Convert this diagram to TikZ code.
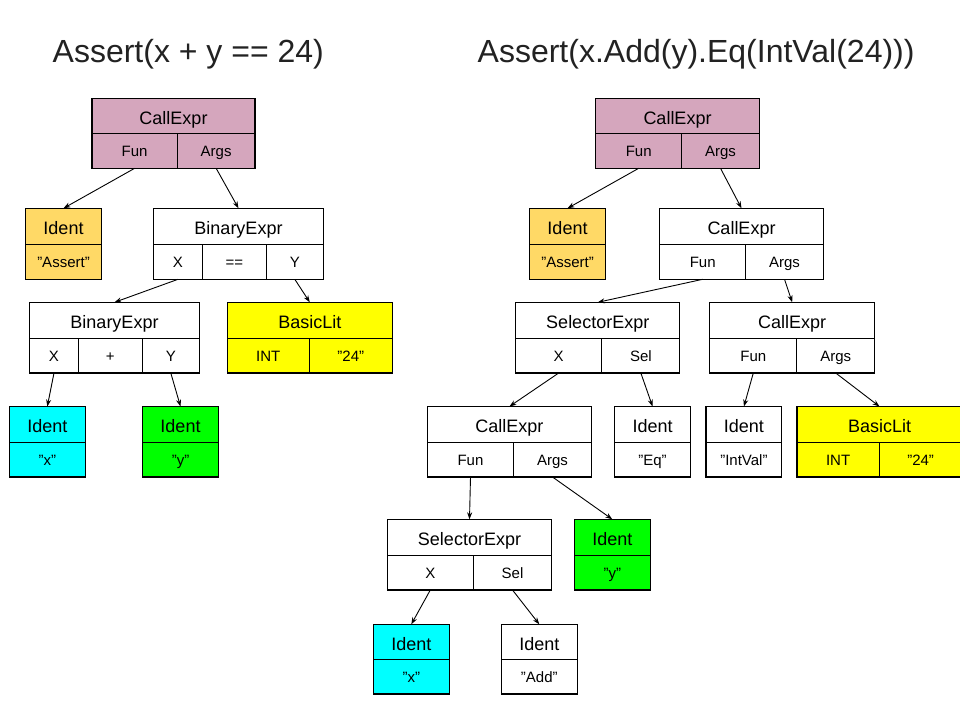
\documentclass[tikz,border=0pt]{standalone}
\usepackage{fontspec}
\setmainfont{Liberation Sans}
\usetikzlibrary{arrows.meta}
\definecolor{pinkc}{HTML}{D5A6BD}
\definecolor{orangec}{HTML}{FFD966}
\definecolor{yellowc}{HTML}{FFFF00}
\definecolor{cyanc}{HTML}{00FFFF}
\definecolor{greenc}{HTML}{00FF00}
\definecolor{titlec}{HTML}{222222}
\newcommand\cell[7]{\node[cellbox,#7,minimum width={(#4-#2)*1pt},minimum height={(#5-#3)*1pt}] (#1) at ({(#2+#4)/2},{(#3+#5)/2}) {#6};}
\tikzset{
  cellbox/.style={draw=black,line width=1.1pt,rectangle,inner sep=0pt,outer sep=0pt},
  hd/.style={font=\fontsize{18}{20}\selectfont,text height=16.5pt,text depth=0pt},
  lb/.style={font=\fontsize{15}{17}\selectfont,text height=10.9pt,text depth=0pt},
  conn/.style={draw=black,line width=0.9pt,-{Stealth[length=7pt,width=5pt]}},
  titletext/.style={text=titlec,font=\fontsize{32}{36}\selectfont,inner sep=0pt,anchor=base west}
}
\begin{document}
\begin{tikzpicture}[x=1pt,y=-1pt]
\useasboundingbox[fill=white] (0,0) rectangle (960,720);
% titles
\node[titletext] (t1) at (52.5,62.5) {Assert(x + y == 24)};
\node[titletext] (t2) at (477.5,62.5) {Assert(x.Add(y).Eq(IntVal(24)))};

% ---------- left tree ----------
\cell{lc}{92}{98.3}{255}{133.3}{CallExpr}{hd,fill=pinkc}
\cell{lcf}{92}{133.3}{177.3}{168.3}{Fun}{lb,fill=pinkc}
\cell{lca}{177.3}{133.3}{255}{168.3}{Args}{lb,fill=pinkc}

\cell{lia}{25.7}{208.3}{101.3}{244.3}{Ident}{hd,fill=orangec}
\cell{liav}{25.7}{244.3}{101.3}{279.3}{”Assert”}{lb,fill=orangec}

\cell{lb1}{153.7}{208.3}{323.3}{244.3}{BinaryExpr}{hd,fill=white}
\cell{lb1x}{153.7}{244.3}{202.3}{279.3}{X}{lb,fill=white}
\cell{lb1o}{202.3}{244.3}{266.3}{279.3}{==}{lb,fill=white}
\cell{lb1y}{266.3}{244.3}{323.3}{279.3}{Y}{lb,fill=white}

\cell{lb2}{29.7}{302.3}{199.3}{338.3}{BinaryExpr}{hd,fill=white}
\cell{lb2x}{29.7}{338.3}{78.3}{373}{X}{lb,fill=white}
\cell{lb2o}{78.3}{338.3}{142.3}{373}{+}{lb,fill=white}
\cell{lb2y}{142.3}{338.3}{199.3}{373}{Y}{lb,fill=white}

\cell{llit}{227.3}{302.3}{392.3}{338.3}{BasicLit}{hd,fill=yellowc}
\cell{llitk}{227.3}{338.3}{309.3}{373}{INT}{lb,fill=yellowc}
\cell{llitv}{309.3}{338.3}{392.3}{373}{”24”}{lb,fill=yellowc}

\cell{lix}{9.3}{406.5}{85.3}{442.3}{Ident}{hd,fill=cyanc}
\cell{lixv}{9.3}{442.3}{85.3}{477}{”x”}{lb,fill=cyanc}

\cell{liy}{142.7}{406.5}{218.3}{442.3}{Ident}{hd,fill=greenc}
\cell{liyv}{142.7}{442.3}{218.3}{477}{”y”}{lb,fill=greenc}

\draw[conn] (lcf.south) -- (lia.north);
\draw[conn] (lca.south) -- (lb1.north);
\draw[conn] (lb1x.south) -- (lb2.north);
\draw[conn] (lb1y.south) -- (llit.north);
\draw[conn] (lb2x.south) -- (lix.north);
\draw[conn] (lb2y.south) -- (liy.north);

% ---------- right tree ----------
\cell{rc}{595.7}{98.3}{759.3}{133.3}{CallExpr}{hd,fill=pinkc}
\cell{rcf}{595.7}{133.3}{681.7}{168.3}{Fun}{lb,fill=pinkc}
\cell{rca}{681.7}{133.3}{759.3}{168.3}{Args}{lb,fill=pinkc}

\cell{ria}{529.7}{208.3}{605.3}{244.3}{Ident}{hd,fill=orangec}
\cell{riav}{529.7}{244.3}{605.3}{279.3}{”Assert”}{lb,fill=orangec}

\cell{rc2}{659.7}{208.3}{823.3}{244.3}{CallExpr}{hd,fill=white}
\cell{rc2f}{659.7}{244.3}{745.7}{279.3}{Fun}{lb,fill=white}
\cell{rc2a}{745.7}{244.3}{823.3}{279.3}{Args}{lb,fill=white}

\cell{rs1}{515.6}{302.3}{679.9}{338.3}{SelectorExpr}{hd,fill=white}
\cell{rs1x}{515.6}{338.3}{601.8}{373}{X}{lb,fill=white}
\cell{rs1s}{601.8}{338.3}{679.9}{373}{Sel}{lb,fill=white}

\cell{rc3}{709.8}{302.3}{874.6}{338.3}{CallExpr}{hd,fill=white}
\cell{rc3f}{709.8}{338.3}{796.8}{373}{Fun}{lb,fill=white}
\cell{rc3a}{796.8}{338.3}{874.6}{373}{Args}{lb,fill=white}

\cell{rc4}{427.4}{406.5}{591.4}{442.3}{CallExpr}{hd,fill=white}
\cell{rc4f}{427.4}{442.3}{513.6}{477}{Fun}{lb,fill=white}
\cell{rc4a}{513.6}{442.3}{591.4}{477}{Args}{lb,fill=white}

\cell{rieq}{614.8}{406.5}{690.3}{442.3}{Ident}{hd,fill=white}
\cell{rieqv}{614.8}{442.3}{690.3}{477}{”Eq”}{lb,fill=white}

\cell{riiv}{706}{406.5}{781.8}{442.3}{Ident}{hd,fill=white}
\cell{riivv}{706}{442.3}{781.8}{477}{”IntVal”}{lb,fill=white}

\cell{rlit}{797}{406.5}{962}{442.3}{BasicLit}{hd,fill=yellowc}
\cell{rlitk}{797}{442.3}{879.2}{477}{INT}{lb,fill=yellowc}
\cell{rlitv}{879.2}{442.3}{962}{477}{”24”}{lb,fill=yellowc}

\cell{rs2}{387.3}{519.3}{551.7}{555.3}{SelectorExpr}{hd,fill=white}
\cell{rs2x}{387.3}{555.3}{473.3}{590}{X}{lb,fill=white}
\cell{rs2s}{473.3}{555.3}{551.7}{590}{Sel}{lb,fill=white}

\cell{riy}{574.3}{519.3}{650.3}{555.3}{Ident}{hd,fill=greenc}
\cell{riyv}{574.3}{555.3}{650.3}{590}{”y”}{lb,fill=greenc}

\cell{rix}{373.3}{624.3}{449.3}{659.3}{Ident}{hd,fill=cyanc}
\cell{rixv}{373.3}{659.3}{449.3}{694}{”x”}{lb,fill=cyanc}

\cell{riad}{501.3}{624.3}{577.3}{659.3}{Ident}{hd,fill=white}
\cell{riadv}{501.3}{659.3}{577.3}{694}{”Add”}{lb,fill=white}

\draw[conn] (rcf.south) -- (ria.north);
\draw[conn] (rca.south) -- (rc2.north);
\draw[conn] (rc2f.south) -- (rs1.north);
\draw[conn] (rc2a.south) -- (rc3.north);
\draw[conn] (rs1x.south) -- (rc4.north);
\draw[conn] (rs1s.south) -- (rieq.north);
\draw[conn] (rc3f.south) -- (riiv.north);
\draw[conn] (rc3a.south) -- (rlit.north);
\draw[conn] (rc4f.south) -- (rs2.north);
\draw[conn] (rc4a.south) -- (riy.north);
\draw[conn] (rs2x.south) -- (rix.north);
\draw[conn] (rs2s.south) -- (riad.north);
\end{tikzpicture}
\end{document}
